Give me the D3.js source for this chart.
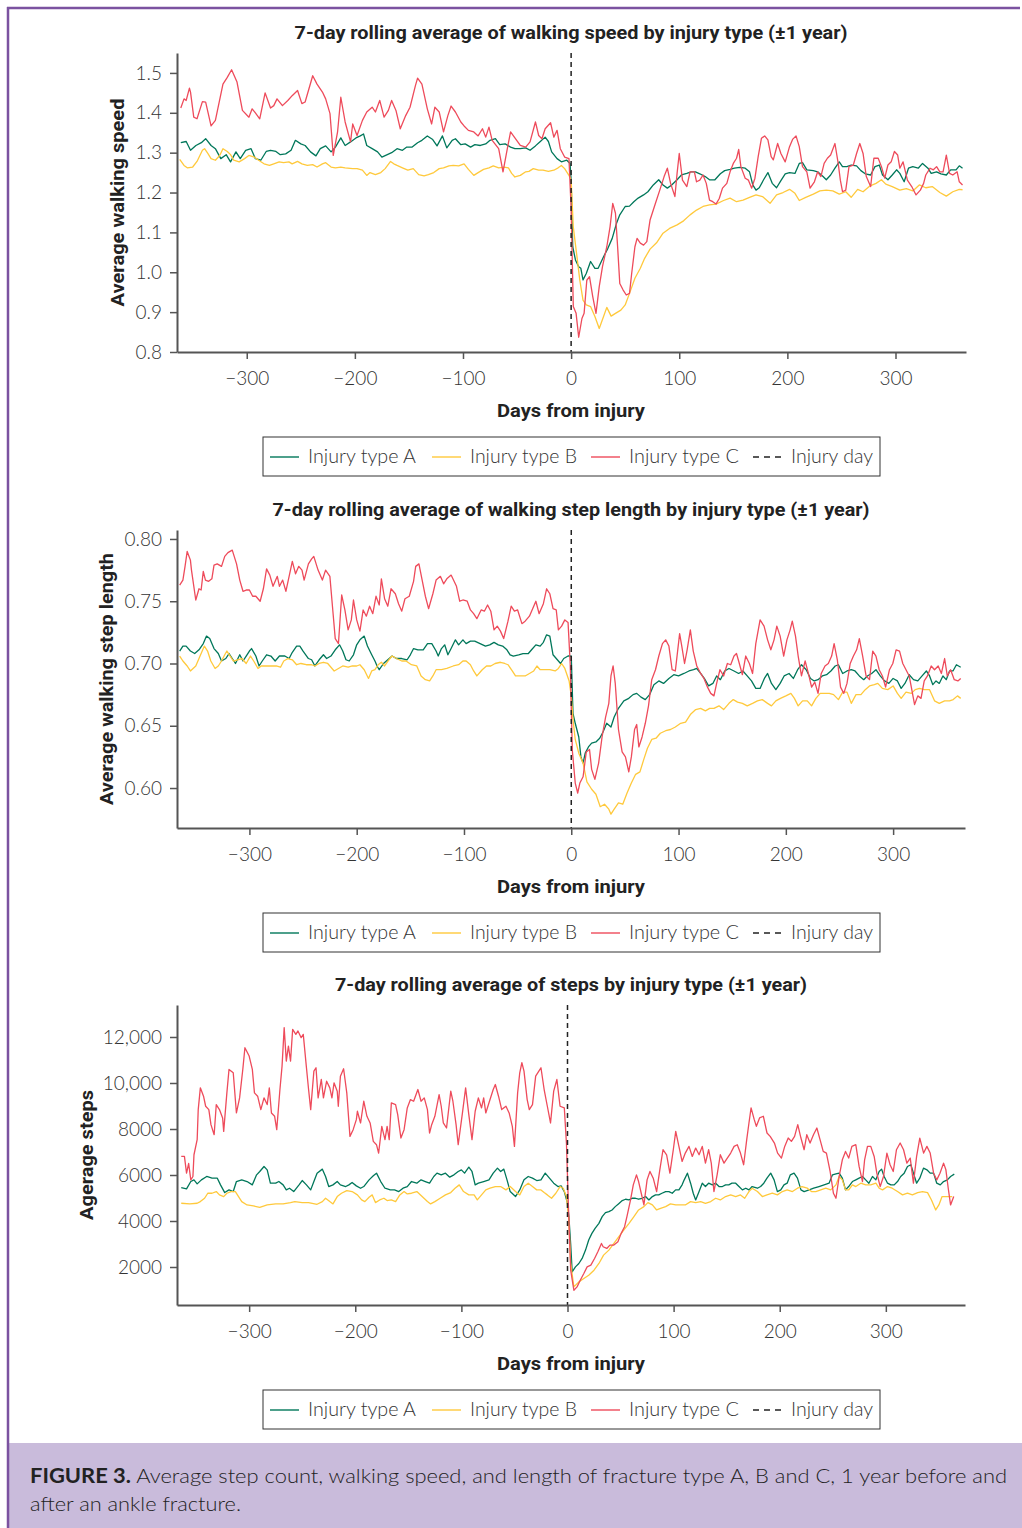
<!DOCTYPE html>
<html>
<head>
<meta charset="utf-8">
<script src="https://cdnjs.cloudflare.com/ajax/libs/d3/7.8.5/d3.min.js"></script>
<style>
  body { margin: 0; background: #fff; }
  svg { display: block; }
  .tick text { font-family: Lato, "Open Sans", sans-serif; font-weight: 300; font-size: 19px; fill: #333; }
  .title, .axis-label { font-family: Roboto, "DejaVu Sans Condensed", sans-serif; font-weight: 700; fill: #222; }
  .legend text { font-family: Lato, "Open Sans", sans-serif; font-weight: 300; font-size: 19px; fill: #333; }
  .caption { font-family: Lato, "Open Sans", sans-serif; font-weight: 300; font-size: 20px; fill: #222; }
</style>
</head>
<body>
<svg id="chart" width="1022" height="1528"></svg>
<script>
// --- data: [day from injury, value] ---
const seriesNames = ['Injury type A', 'Injury type B', 'Injury type C'];
const xTicks = [-300, -200, -100, 0, 100, 200, 300];
const speedTicks = [0.8, 0.9, 1.0, 1.1, 1.2, 1.3, 1.4, 1.5];
const stepLenTicks = [0.60, 0.65, 0.70, 0.75, 0.80];
const stepTicks = [2000, 4000, 6000, 8000, 10000, 12000];

// walking speed
const speedA = [[-361,1.325],[-356,1.328],[-352,1.306],[-347,1.318],[-342,1.325],[-338,1.335],[-333,1.318],[-329,1.31],[-324,1.285],[-319,1.295],[-315,1.277],[-310,1.302],[-306,1.285],[-301,1.306],[-296,1.31],[-292,1.285],[-287,1.281],[-282,1.303],[-278,1.306],[-273,1.303],[-269,1.295],[-264,1.297],[-259,1.306],[-255,1.331],[-250,1.322],[-246,1.318],[-241,1.302],[-236,1.292],[-232,1.31],[-227,1.317],[-222,1.302],[-218,1.314],[-213,1.337],[-209,1.318],[-204,1.327],[-199,1.337],[-195,1.342],[-192,1.347],[-189,1.318],[-184,1.31],[-179,1.302],[-175,1.289],[-170,1.295],[-166,1.3],[-161,1.31],[-156,1.306],[-152,1.314],[-147,1.314],[-142,1.325],[-138,1.331],[-133,1.342],[-128,1.333],[-124,1.317],[-119,1.342],[-115,1.312],[-110,1.331],[-107,1.335],[-102,1.32],[-98,1.322],[-93,1.314],[-89,1.32],[-84,1.318],[-79,1.322],[-75,1.331],[-70,1.335],[-66,1.32],[-61,1.322],[-56,1.314],[-52,1.31],[-47,1.31],[-42,1.312],[-38,1.306],[-33,1.317],[-29,1.327],[-24,1.339],[-21,1.328],[-18,1.302],[-13,1.285],[-9,1.277],[-4,1.281],[-1,1.273],[0,1.232],[1.5,1.064],[4,1.031],[7,1.014],[9,1.01],[11,0.981],[14,0.997],[18,1.027],[22,1.01],[25,1.01],[30,1.039],[34,1.06],[38,1.085],[42,1.123],[45,1.144],[50,1.165],[54,1.166],[58,1.177],[62,1.186],[67,1.194],[71,1.202],[76,1.219],[81,1.232],[85,1.219],[89,1.211],[93,1.219],[98,1.232],[102,1.244],[107,1.248],[111,1.252],[115,1.252],[119,1.247],[124,1.24],[128,1.232],[133,1.232],[138,1.247],[142,1.255],[147,1.258],[151,1.261],[156,1.263],[161,1.261],[165,1.252],[168,1.219],[171,1.206],[174,1.212],[178,1.232],[182,1.25],[186,1.223],[190,1.212],[194,1.23],[198,1.247],[202,1.25],[207,1.248],[211,1.273],[214,1.275],[218,1.257],[224,1.255],[228,1.252],[233,1.24],[236,1.232],[240,1.244],[244,1.261],[248,1.277],[251,1.265],[255,1.265],[259,1.269],[264,1.267],[268,1.255],[272,1.247],[277,1.244],[281,1.265],[285,1.269],[288,1.244],[293,1.232],[297,1.244],[301,1.257],[304,1.248],[308,1.227],[312,1.261],[316,1.265],[321,1.261],[325,1.273],[330,1.261],[333,1.248],[338,1.252],[342,1.247],[347,1.244],[351,1.257],[356,1.257],[359,1.267],[362,1.261]];
const speedB = [[-362,1.283],[-358,1.268],[-355,1.262],[-350,1.264],[-346,1.278],[-341,1.306],[-339,1.31],[-336,1.298],[-333,1.285],[-329,1.281],[-325,1.293],[-322,1.31],[-318,1.303],[-315,1.295],[-312,1.281],[-307,1.277],[-302,1.285],[-298,1.293],[-293,1.289],[-289,1.281],[-284,1.272],[-279,1.268],[-275,1.272],[-270,1.277],[-266,1.275],[-261,1.277],[-258,1.272],[-253,1.278],[-249,1.272],[-244,1.268],[-239,1.27],[-235,1.264],[-230,1.272],[-227,1.275],[-222,1.264],[-218,1.262],[-213,1.264],[-209,1.262],[-202,1.26],[-198,1.26],[-193,1.256],[-189,1.243],[-186,1.25],[-181,1.245],[-176,1.25],[-172,1.26],[-167,1.278],[-164,1.272],[-161,1.268],[-156,1.262],[-151,1.256],[-146,1.26],[-141,1.245],[-136,1.242],[-132,1.245],[-127,1.25],[-122,1.26],[-118,1.262],[-113,1.267],[-109,1.268],[-104,1.267],[-99,1.272],[-95,1.258],[-90,1.243],[-86,1.25],[-81,1.258],[-76,1.262],[-72,1.267],[-67,1.262],[-62,1.264],[-58,1.262],[-55,1.248],[-52,1.239],[-47,1.243],[-42,1.252],[-39,1.253],[-35,1.26],[-30,1.256],[-26,1.256],[-21,1.253],[-16,1.256],[-12,1.262],[-9,1.268],[-6,1.26],[-2,1.243],[0,1.232],[2,1.114],[5,1.048],[8,0.981],[11,0.93],[14,0.918],[18,0.914],[22,0.889],[26,0.859],[30,0.889],[33,0.912],[37,0.89],[41,0.897],[46,0.905],[50,0.918],[54,0.947],[59,0.985],[64,1.01],[68,1.035],[73,1.058],[79,1.074],[85,1.098],[91,1.11],[98,1.119],[104,1.129],[110,1.144],[116,1.156],[122,1.165],[128,1.169],[134,1.171],[141,1.18],[147,1.186],[153,1.177],[159,1.181],[165,1.188],[171,1.194],[177,1.19],[184,1.173],[190,1.194],[196,1.2],[202,1.208],[207,1.198],[211,1.18],[217,1.188],[224,1.196],[230,1.204],[236,1.206],[242,1.204],[248,1.196],[254,1.202],[259,1.188],[265,1.208],[270,1.202],[276,1.216],[282,1.223],[287,1.232],[291,1.221],[297,1.215],[304,1.206],[310,1.21],[316,1.204],[322,1.219],[328,1.212],[334,1.215],[341,1.2],[347,1.191],[353,1.202],[359,1.208],[362,1.207]];
const speedC = [[-361,1.412],[-358,1.435],[-356,1.431],[-353,1.462],[-352,1.452],[-349,1.389],[-346,1.385],[-341,1.428],[-338,1.427],[-333,1.367],[-329,1.381],[-322,1.472],[-318,1.489],[-314,1.508],[-309,1.477],[-304,1.406],[-298,1.389],[-295,1.41],[-292,1.40],[-288,1.385],[-283,1.45],[-278,1.412],[-275,1.418],[-272,1.435],[-267,1.418],[-262,1.431],[-258,1.443],[-253,1.456],[-249,1.423],[-246,1.427],[-239,1.493],[-235,1.472],[-230,1.452],[-227,1.435],[-223,1.398],[-220,1.293],[-216,1.352],[-213,1.439],[-209,1.377],[-204,1.327],[-202,1.372],[-198,1.343],[-193,1.381],[-189,1.402],[-184,1.414],[-181,1.402],[-177,1.431],[-173,1.389],[-169,1.406],[-166,1.431],[-162,1.406],[-158,1.36],[-153,1.393],[-149,1.414],[-144,1.468],[-142,1.487],[-138,1.472],[-133,1.41],[-129,1.372],[-126,1.414],[-122,1.402],[-118,1.352],[-114,1.393],[-111,1.417],[-107,1.402],[-102,1.377],[-99,1.367],[-95,1.356],[-90,1.352],[-86,1.342],[-82,1.36],[-79,1.339],[-76,1.364],[-73,1.331],[-67,1.31],[-63,1.252],[-59,1.31],[-56,1.352],[-52,1.337],[-47,1.318],[-42,1.314],[-38,1.327],[-33,1.377],[-30,1.343],[-27,1.335],[-24,1.36],[-19,1.375],[-16,1.339],[-13,1.356],[-10,1.31],[-6,1.289],[-2,1.285],[0,1.16],[2,0.914],[4.6,0.897],[7,0.837],[10,0.884],[12,0.897],[14.5,0.98],[17,0.989],[20,0.939],[23,0.897],[26,0.964],[29,1.014],[33,1.064],[36,1.114],[38.5,1.173],[41,1.148],[43,1.064],[45,0.972],[48,0.956],[51,0.943],[54,0.947],[56,0.997],[59,1.064],[61,1.085],[64,1.073],[67,1.068],[70,1.077],[73,1.131],[78,1.173],[82,1.206],[86,1.24],[89,1.261],[92,1.223],[96,1.19],[98,1.248],[100,1.298],[103,1.231],[107,1.215],[110,1.252],[114,1.252],[116,1.227],[119,1.231],[122,1.244],[125,1.223],[128,1.181],[131,1.177],[134,1.171],[137,1.185],[140,1.211],[144,1.223],[147,1.252],[150,1.273],[153,1.286],[155,1.308],[157,1.265],[161,1.236],[164,1.231],[167,1.211],[170,1.236],[173,1.29],[176,1.336],[179,1.342],[182,1.332],[185,1.29],[187,1.282],[191,1.323],[194,1.298],[198,1.277],[202,1.315],[205,1.334],[208,1.342],[211,1.315],[214,1.265],[218,1.252],[221,1.211],[225,1.227],[228,1.252],[231,1.24],[234,1.273],[237,1.286],[240,1.294],[244,1.323],[247,1.273],[249,1.231],[251,1.202],[254,1.206],[257,1.265],[261,1.269],[264,1.298],[267,1.323],[270,1.298],[273,1.24],[277,1.215],[280,1.286],[284,1.286],[287,1.265],[290,1.236],[293,1.269],[296,1.277],[299,1.303],[302,1.294],[304,1.261],[307,1.277],[311,1.231],[315,1.215],[319,1.194],[323,1.206],[326,1.223],[328,1.244],[332,1.261],[335,1.257],[338,1.265],[341,1.252],[344,1.252],[347,1.294],[350,1.248],[353,1.244],[357,1.252],[359,1.227],[362,1.219]];

// walking step length
const stepLenA = [[-365,0.71],[-362,0.714],[-359,0.714],[-355,0.71],[-351,0.708],[-347,0.711],[-343,0.716],[-340,0.722],[-337,0.72],[-333,0.712],[-329,0.708],[-326,0.702],[-322,0.704],[-319,0.708],[-316,0.704],[-313,0.70],[-309,0.707],[-306,0.702],[-303,0.706],[-300,0.71],[-298,0.712],[-294,0.706],[-291,0.698],[-288,0.702],[-284,0.707],[-280,0.706],[-276,0.702],[-272,0.706],[-267,0.706],[-263,0.704],[-260,0.709],[-256,0.714],[-253,0.714],[-250,0.71],[-245,0.704],[-242,0.703],[-239,0.698],[-235,0.703],[-231,0.707],[-228,0.704],[-224,0.706],[-220,0.711],[-216,0.715],[-213,0.71],[-210,0.703],[-207,0.702],[-203,0.707],[-200,0.715],[-197,0.719],[-193,0.722],[-190,0.714],[-186,0.707],[-183,0.702],[-181,0.698],[-179,0.695],[-175,0.70],[-171,0.703],[-167,0.706],[-163,0.704],[-158,0.704],[-153,0.703],[-150,0.707],[-147,0.712],[-143,0.711],[-138,0.711],[-134,0.716],[-130,0.716],[-126,0.71],[-124,0.706],[-121,0.712],[-118,0.715],[-115,0.707],[-112,0.712],[-108,0.719],[-105,0.715],[-101,0.719],[-98,0.716],[-94,0.718],[-90,0.718],[-85,0.716],[-80,0.714],[-76,0.715],[-72,0.717],[-68,0.715],[-64,0.714],[-60,0.711],[-57,0.707],[-54,0.706],[-49,0.707],[-45,0.708],[-40,0.708],[-37,0.711],[-33,0.715],[-29,0.714],[-26,0.717],[-23,0.723],[-20,0.722],[-17,0.707],[-13,0.703],[-10,0.70],[-7,0.704],[-3,0.706],[0,0.706],[1.6,0.66],[3.7,0.652],[7,0.641],[9,0.625],[11,0.62],[13,0.628],[16,0.633],[19,0.636],[23,0.637],[26.5,0.64],[29.6,0.645],[33,0.652],[37,0.649],[40,0.657],[44,0.664],[49,0.67],[53.6,0.672],[57.6,0.675],[61,0.676],[65,0.673],[69,0.671],[73,0.675],[77,0.683],[81.6,0.686],[86,0.684],[91,0.688],[95.6,0.691],[100,0.69],[105,0.692],[109.7,0.694],[114,0.695],[117,0.696],[120.6,0.692],[124,0.688],[128,0.682],[132,0.684],[135.5,0.69],[139,0.687],[143,0.694],[147,0.696],[151.7,0.694],[156,0.692],[160,0.694],[164,0.69],[168,0.686],[172,0.68],[176,0.68],[180,0.688],[183,0.692],[186.6,0.684],[190.7,0.679],[194.7,0.684],[198.4,0.69],[203,0.692],[207,0.688],[211,0.695],[214.6,0.699],[219,0.695],[223,0.688],[226.5,0.686],[230,0.687],[234,0.69],[238,0.691],[242,0.694],[246,0.698],[249,0.699],[253,0.692],[257,0.694],[261,0.695],[264.5,0.694],[268.5,0.69],[272.6,0.687],[276,0.69],[280,0.692],[284,0.695],[288,0.69],[292,0.686],[296,0.684],[300,0.688],[304,0.686],[307.5,0.68],[311,0.684],[315,0.691],[319,0.687],[323,0.686],[327,0.69],[331,0.694],[334,0.69],[337,0.683],[340,0.686],[343,0.684],[346.4,0.69],[349.5,0.687],[352.6,0.694],[355.8,0.694],[359,0.699],[363,0.697]];
const stepLenB = [[-365,0.706],[-362,0.702],[-358,0.698],[-355,0.694],[-350,0.698],[-347,0.704],[-342,0.714],[-339,0.71],[-336,0.702],[-332,0.696],[-329,0.698],[-326,0.702],[-323,0.707],[-321,0.71],[-318,0.706],[-315,0.702],[-311,0.703],[-307,0.704],[-303,0.70],[-299,0.706],[-296,0.702],[-292,0.696],[-289,0.698],[-284,0.698],[-280,0.698],[-275,0.698],[-271,0.697],[-268,0.702],[-264,0.704],[-260,0.703],[-256,0.699],[-252,0.70],[-247,0.699],[-242,0.699],[-239,0.698],[-235,0.70],[-231,0.701],[-227,0.70],[-223,0.696],[-221,0.694],[-217,0.696],[-213,0.698],[-208,0.697],[-204,0.698],[-200,0.698],[-197,0.699],[-193,0.695],[-189,0.688],[-186,0.694],[-183,0.695],[-180,0.699],[-177,0.701],[-174,0.698],[-170,0.703],[-167,0.706],[-163,0.704],[-158,0.702],[-154,0.702],[-149,0.699],[-144,0.698],[-140,0.69],[-136,0.687],[-132,0.686],[-129,0.69],[-126,0.695],[-121,0.695],[-116,0.696],[-110,0.698],[-105,0.699],[-101,0.702],[-98,0.702],[-94,0.699],[-91,0.694],[-88,0.69],[-83,0.695],[-79,0.698],[-75,0.698],[-71,0.70],[-66,0.701],[-62,0.70],[-59,0.699],[-55,0.694],[-52,0.69],[-48,0.69],[-43,0.69],[-39,0.692],[-35,0.694],[-32,0.698],[-29,0.695],[-24,0.695],[-20,0.695],[-15,0.694],[-12,0.696],[-9,0.70],[-6,0.696],[-2,0.686],[0,0.674],[1.6,0.655],[3.7,0.639],[7,0.628],[11,0.62],[14.6,0.605],[19,0.599],[23,0.595],[27,0.585],[31,0.587],[35,0.583],[37,0.579],[40,0.583],[44,0.588],[48,0.587],[52,0.596],[56,0.604],[60,0.611],[64,0.613],[67.6,0.623],[71,0.632],[75,0.639],[79,0.64],[83,0.644],[88,0.646],[92.5,0.647],[97,0.649],[102,0.652],[106.5,0.653],[111,0.659],[116,0.663],[120.6,0.664],[125,0.662],[129,0.664],[133,0.664],[137.7,0.666],[142,0.663],[147,0.668],[151,0.671],[155,0.669],[159.5,0.668],[164,0.666],[169,0.668],[173.5,0.67],[178,0.671],[183,0.668],[186.6,0.666],[190.7,0.67],[195,0.672],[200,0.674],[204.7,0.676],[208,0.672],[211.5,0.666],[215.6,0.67],[220,0.67],[224,0.666],[228,0.672],[232,0.676],[236.5,0.676],[240.5,0.676],[244.5,0.675],[249,0.671],[253,0.677],[257,0.677],[261,0.668],[265.4,0.675],[270,0.675],[274,0.679],[278,0.682],[282.5,0.683],[285.7,0.684],[290,0.68],[295,0.679],[300,0.682],[304,0.676],[307.5,0.672],[312,0.677],[317,0.676],[320.6,0.679],[324.6,0.68],[329,0.679],[334,0.679],[338.6,0.67],[343,0.668],[348,0.67],[352.6,0.67],[356,0.671],[360,0.674],[363,0.672]];
const stepLenC = [[-365,0.763],[-362,0.767],[-360,0.778],[-358,0.79],[-355,0.783],[-354,0.775],[-350,0.751],[-347,0.76],[-345,0.759],[-343,0.774],[-341,0.767],[-338,0.766],[-335,0.768],[-333,0.779],[-330,0.78],[-326,0.778],[-323,0.786],[-320,0.789],[-316,0.791],[-312,0.78],[-309,0.767],[-306,0.758],[-303,0.759],[-300,0.759],[-297,0.754],[-294,0.754],[-290,0.75],[-287,0.76],[-284,0.776],[-281,0.771],[-278,0.762],[-274,0.77],[-272,0.762],[-269,0.767],[-266,0.758],[-263,0.77],[-260,0.782],[-257,0.772],[-254,0.778],[-251,0.775],[-249,0.767],[-245,0.78],[-242,0.784],[-240,0.786],[-236,0.775],[-232,0.767],[-229,0.775],[-225,0.77],[-222,0.74],[-220,0.72],[-217,0.716],[-214,0.755],[-211,0.743],[-208,0.727],[-205,0.735],[-203,0.751],[-200,0.735],[-197,0.726],[-194,0.743],[-191,0.738],[-188,0.746],[-185,0.74],[-182,0.754],[-179,0.747],[-177,0.768],[-174,0.752],[-171,0.746],[-168,0.76],[-164,0.756],[-161,0.748],[-158,0.742],[-155,0.752],[-151,0.754],[-147,0.766],[-145,0.778],[-142,0.78],[-139,0.767],[-136,0.754],[-133,0.744],[-129,0.756],[-126,0.767],[-122,0.77],[-119,0.764],[-116,0.768],[-112,0.771],[-107,0.762],[-104,0.75],[-101,0.751],[-97,0.75],[-94,0.743],[-91,0.74],[-88,0.736],[-84,0.743],[-81,0.742],[-78,0.747],[-75,0.742],[-72,0.727],[-69,0.73],[-66,0.726],[-63,0.72],[-59,0.734],[-56,0.746],[-53,0.742],[-50,0.743],[-46,0.732],[-43,0.734],[-39,0.738],[-36,0.744],[-33,0.75],[-30,0.74],[-26,0.748],[-23,0.76],[-20,0.756],[-17,0.744],[-14,0.743],[-12,0.727],[-9,0.73],[-6,0.735],[-3,0.733],[-1,0.70],[1,0.63],[3.7,0.604],[6,0.596],[8,0.604],[11,0.609],[14,0.629],[17,0.631],[19,0.615],[22,0.607],[25.5,0.62],[28.7,0.641],[32,0.657],[35,0.668],[37,0.69],[39,0.698],[41,0.684],[44,0.647],[47.4,0.629],[50.5,0.625],[53.6,0.613],[56,0.625],[59,0.647],[61,0.651],[63,0.633],[66,0.641],[69,0.652],[72,0.666],[75,0.687],[78.5,0.695],[81.6,0.706],[85,0.716],[88,0.719],[91,0.714],[94,0.695],[97,0.694],[101,0.724],[103,0.714],[105.6,0.70],[108,0.711],[111,0.727],[113.7,0.71],[117,0.698],[120.6,0.692],[123.7,0.688],[127,0.681],[130,0.676],[133,0.674],[135.5,0.684],[138.6,0.695],[142,0.69],[145.5,0.70],[148.6,0.699],[151.7,0.706],[154,0.708],[156,0.702],[159.5,0.691],[162.6,0.706],[166,0.70],[169,0.692],[172,0.716],[176,0.735],[179.7,0.73],[183,0.719],[186,0.711],[189,0.719],[191.6,0.73],[194.7,0.722],[198,0.706],[201,0.719],[204,0.727],[206,0.734],[209,0.722],[211.5,0.706],[214.6,0.69],[218,0.702],[221,0.692],[224,0.681],[227,0.685],[230,0.676],[233,0.692],[236.5,0.698],[239.6,0.70],[242.7,0.706],[245,0.716],[248,0.703],[251,0.681],[254,0.676],[257,0.684],[260,0.70],[263,0.706],[266,0.711],[268.5,0.72],[271.6,0.706],[274.8,0.69],[278,0.687],[281,0.71],[284,0.706],[287,0.695],[290,0.69],[293,0.681],[296.6,0.695],[299.7,0.70],[302.8,0.711],[306,0.71],[309,0.70],[312,0.695],[315,0.69],[317.4,0.679],[320,0.667],[323,0.674],[326,0.672],[329,0.686],[332,0.69],[335.5,0.698],[338.6,0.695],[342,0.698],[345,0.692],[348,0.704],[350.5,0.69],[353.6,0.695],[357,0.687],[360.4,0.686],[363,0.688]];

// step count
const stepsA = [[-364,5455],[-359,5396],[-355,5716],[-352,5789],[-349,5615],[-345,5789],[-340,5935],[-335,5862],[-330,5862],[-327,5571],[-323,5236],[-319,5353],[-315,5280],[-312,5716],[-307,5789],[-302,5716],[-297,5571],[-293,6007],[-290,6153],[-286,6371],[-283,6225],[-280,5644],[-275,5644],[-272,5716],[-268,5571],[-265,5353],[-262,5425],[-258,5280],[-253,5571],[-250,5760],[-246,5571],[-242,5353],[-239,5716],[-236,6080],[-231,6255],[-228,5935],[-225,5498],[-221,5571],[-217,5716],[-214,5571],[-209,5498],[-206,5571],[-203,5673],[-199,5527],[-195,5425],[-192,5498],[-187,5789],[-183,5964],[-180,6080],[-176,5716],[-172,5425],[-167,5353],[-163,5353],[-159,5280],[-155,5425],[-151,5498],[-147,5716],[-142,5644],[-138,5789],[-134,5716],[-130,5644],[-126,5935],[-123,6080],[-119,6007],[-115,6080],[-111,5905],[-107,6007],[-103,6153],[-100,6225],[-97,6080],[-93,6342],[-90,6153],[-87,5571],[-84,5644],[-79,5716],[-74,5789],[-70,6080],[-66,6298],[-63,6153],[-60,6255],[-57,5789],[-54,5280],[-49,5062],[-45,5353],[-41,5789],[-37,5935],[-33,5862],[-29,5760],[-25,5789],[-21,6080],[-17,5862],[-13,5644],[-9,5498],[-6,5527],[-3,5280],[0,4771],[1.3,4189],[3,3000],[4.4,1789],[7.5,2007],[10.7,2153],[13.8,2371],[17,2735],[20,3171],[23,3462],[26,3680],[29.6,3898],[32.7,4189],[35.8,4364],[39,4407],[42,4480],[45,4625],[48,4742],[51.6,4887],[54.7,4946],[57.9,4916],[61,4989],[64,4989],[67,4946],[70.4,4989],[73.6,5062],[76.7,4916],[80,5062],[83,5135],[86,5135],[89,5207],[92.5,5280],[95.6,5280],[98.7,5207],[101.9,5353],[105,5353],[108,5571],[110,5789],[113,6080],[116,5644],[118.5,5207],[120.8,4916],[124,5280],[127,5644],[130,5498],[133,5644],[136.5,5571],[139.6,5644],[142.8,5498],[146,5498],[149,5571],[152,5571],[155,5644],[158.5,5644],[161.6,5498],[164.8,5353],[168,5425],[171,5353],[174,5498],[179,5425],[182,5498],[185,5644],[188,5862],[191.5,6080],[194.7,5789],[197.8,5280],[201,5353],[204,5571],[207,5644],[210,6007],[213.5,6080],[216.7,5862],[220,5353],[223,5280],[227.7,5353],[232,5425],[237,5498],[241.8,5571],[246.5,5644],[249.7,6007],[253,6050],[256,6080],[259,5862],[262,5353],[265,5498],[268.5,5716],[271.7,5789],[274.8,5862],[278,5935],[281,5789],[284,5644],[287.4,5935],[290.6,5789],[293.7,6153],[296,6255],[298.4,5935],[301.6,5644],[304.7,5571],[307.9,5571],[311,5716],[314,5935],[317.3,6080],[320.4,6371],[323.6,6444],[326,6080],[329,5644],[332,5862],[335.5,6298],[338.7,6225],[341.8,6080],[345,6080],[348,5644],[351.3,5571],[354.4,5716],[358,5789],[361,5935],[364.5,6036]];
const stepsB = [[-364,4771],[-356,4742],[-349,4771],[-346,4844],[-342,4989],[-339,5207],[-335,5207],[-331,5280],[-328,5135],[-324,5062],[-321,5207],[-317,5280],[-313,5280],[-310,5062],[-307,4844],[-302,4698],[-296,4655],[-290,4596],[-283,4698],[-275,4742],[-268,4742],[-261,4800],[-257,4844],[-250,4800],[-244,4800],[-236,4727],[-231,4844],[-228,4989],[-224,4844],[-221,4742],[-217,5062],[-213,5207],[-208,5324],[-203,5280],[-198,5135],[-194,4916],[-191,4844],[-187,5033],[-184,5135],[-181,4800],[-177,4916],[-173,4989],[-170,4887],[-166,4916],[-162,4844],[-158,5135],[-154,5280],[-151,5178],[-147,5207],[-142,5280],[-137,5062],[-132,4844],[-129,4742],[-125,4844],[-120,4989],[-115,5135],[-110,5236],[-106,5425],[-102,5571],[-98,5280],[-93,5135],[-88,5135],[-85,4916],[-81,5135],[-77,5353],[-73,5425],[-68,5498],[-63,5498],[-58,5353],[-54,5498],[-49,5280],[-45,5135],[-41,5498],[-37,5644],[-33,5498],[-29,5353],[-25,5353],[-22,5236],[-19,5135],[-15,4989],[-11,5207],[-7,5498],[-4,5425],[-1,5062],[1,4189],[3,2153],[6,1135],[10.7,1353],[15.4,1498],[20,1644],[25,1862],[29.6,2153],[34,2516],[39,2735],[43.7,3025],[48.4,3316],[53,3607],[58,3898],[62.6,4189],[67,4480],[72,4625],[75.8,4800],[80,4698],[84,4480],[87.7,4553],[92.5,4625],[97,4742],[102,4698],[106.6,4698],[111,4698],[116,4844],[120.8,4800],[125.5,4844],[130,4771],[135,4844],[139.6,4989],[144,4916],[149,5062],[153.8,5135],[158.5,5062],[163,5135],[167,4989],[171,5280],[174,5425],[179,5280],[183.6,5062],[188,5135],[193,5207],[197.8,5135],[202.5,5280],[207,5353],[212,5280],[216.7,5425],[221,5498],[226,5425],[229.9,5280],[234,5280],[238.7,5353],[243.4,5425],[248,5353],[253,5571],[256,5935],[259,5789],[262,5353],[265,5353],[268.5,5571],[271.7,5498],[276.4,5644],[281,5571],[285.8,5571],[290.6,5644],[293.7,5425],[296.9,5353],[301.6,5498],[306,5425],[311,5280],[315.7,5135],[320.4,5207],[325,5135],[330,5236],[334.6,5280],[339.3,5236],[343,4916],[347,4480],[350,4698],[353,5062],[358,5062],[362.6,5062]];
const stepsC = [[-364,6807],[-361,6807],[-359,6080],[-357,6500],[-355,5789],[-353,5935],[-352,6880],[-349,7535],[-348,8844],[-346,9789],[-343,9425],[-341,8989],[-338,8844],[-336,8189],[-333,7753],[-331,9062],[-328,8844],[-325,8480],[-324,7898],[-321,9571],[-319,10589],[-315,10444],[-312,8698],[-309,9353],[-306,10589],[-304,11535],[-300,11171],[-297,10589],[-295,9571],[-292,9425],[-289,8844],[-286,9353],[-283,9062],[-281,9789],[-279,8698],[-276,8553],[-274,7971],[-271,9717],[-269,10735],[-267,12407],[-265,10953],[-263,11607],[-261,10953],[-259,12335],[-256,12116],[-254,12262],[-251,11971],[-249,12116],[-246,10662],[-244,9717],[-242,8844],[-239,10516],[-237,10662],[-235,9353],[-232,10153],[-230,9353],[-227,10080],[-224,9789],[-222,9353],[-220,10007],[-217,9644],[-216,8989],[-214,10298],[-211,10618],[-208,9571],[-205,7680],[-202,7971],[-199,8407],[-198,8771],[-195,8262],[-192,9207],[-189,8553],[-186,8262],[-183,7462],[-180,7317],[-178,6953],[-175,8116],[-172,7535],[-170,8116],[-168,7535],[-166,9135],[-162,9062],[-160,8625],[-157,7607],[-154,7971],[-151,8916],[-148,9280],[-145,9207],[-141,9717],[-138,9207],[-135,9353],[-132,8844],[-130,7826],[-128,8189],[-125,8553],[-121,9498],[-119,8989],[-117,8262],[-114,8044],[-110,9644],[-108,9207],[-105,8189],[-103,7317],[-99,8698],[-96,9789],[-93,8625],[-90,7535],[-87,8771],[-84,9353],[-81,8916],[-79,9353],[-77,8698],[-73,9280],[-70,9717],[-68,9935],[-65,9425],[-62,8844],[-58,8989],[-55,8698],[-52,8116],[-50,7244],[-47,9571],[-45,10444],[-43,10880],[-41,10516],[-38,9280],[-36,8844],[-33,9062],[-30,10298],[-27,10516],[-25,10662],[-22,9717],[-19,8989],[-16,8262],[-13,9644],[-10,10153],[-7,8989],[-3,8916],[-1,7389],[1,4480],[3,1862],[6,989],[9,1135],[12,1425],[15.4,1716],[18.5,2007],[22,2080],[25.5,2371],[28.6,2662],[32,3025],[33.6,2880],[37,2807],[40,2953],[43.7,2953],[47.5,3098],[50.6,3462],[53.8,3753],[56,4189],[59.4,4916],[62,5571],[65,6007],[67,5716],[69.5,5207],[72,4698],[75,5789],[77.7,6153],[80.8,5862],[84,5280],[87,6225],[90,7098],[93.4,6880],[96.5,6080],[99.7,7098],[102,7898],[105,7244],[108,6589],[111,6953],[114.5,7244],[117.6,6807],[120.8,7171],[124,6880],[127,7244],[130,6516],[133,7098],[135.5,6516],[138,5280],[141,6007],[144,6880],[147.5,6516],[150.6,6735],[153.8,6953],[157,7244],[160,7317],[163,6953],[166,6444],[168.9,7535],[171,8262],[173,8916],[176,8407],[178,8116],[181,8480],[184.6,8553],[188,7826],[191,7680],[195,7389],[198,6953],[201.6,6735],[204.7,7244],[208,7607],[211,7462],[214,7680],[217,8189],[220,7607],[223,7098],[225.5,7753],[228.6,7389],[231.8,7753],[235,8044],[238,7535],[241,7025],[244,6953],[247.5,6153],[250.6,5207],[253,4989],[256,5935],[259,6662],[262,7025],[265,6735],[268,7244],[271.7,7317],[274.8,6371],[278,5716],[280,6662],[282.7,7244],[285.8,7244],[289,6807],[291.5,6080],[294.7,5498],[297.8,5935],[301,6953],[304,6444],[307,6153],[310,7098],[313.5,7389],[316.7,7098],[319.8,6516],[323,6735],[326,5644],[329,6807],[332,7607],[335.6,6953],[338.7,7244],[341.8,6953],[345,6080],[348,5789],[351,6080],[354.4,6516],[356.6,6225],[358.8,5425],[361,4698],[364,5062]];

const colors = ['#00775a', '#ffc93c', '#ee4b5b'];

const panels = [
  { title: '7-day rolling average of walking speed by injury type (\u00b11 year)', titleW: 553,
    ylabel: 'Average walking speed', ylabelX: 117, ylabelW: 208,
    top: 53, bottom: 352, xDomain: [-364.5, 365.2], xRange: [177, 966],
    yDomain: [0.8, 1.55], yTicks: speedTicks, yFmt: d3.format('.1f'),
    series: [speedA, speedB, speedC] },
  { title: '7-day rolling average of walking step length by injury type (\u00b11 year)', titleW: 597,
    ylabel: 'Average walking step length', ylabelX: 106, ylabelW: 252,
    top: 530, bottom: 828, xDomain: [-367.5, 367], xRange: [177, 965],
    yDomain: [0.5679, 0.8072], yTicks: stepLenTicks, yFmt: d3.format('.2f'),
    series: [stepLenA, stepLenB, stepLenC] },
  { title: '7-day rolling average of steps by injury type (\u00b11 year)', titleW: 472,
    ylabel: 'Agerage steps', ylabelX: 86, ylabelW: 130,
    top: 1005, bottom: 1305, xDomain: [-368, 374.6], xRange: [177, 965],
    yDomain: [348, 13391], yTicks: stepTicks, yFmt: d => d >= 10000 ? d3.format(',')(d) : String(d),
    series: [stepsA, stepsB, stepsC] }
];

const svg = d3.select('#chart');

// frame and caption band
svg.append('rect').attr('x', 8).attr('y', 1443).attr('width', 1014).attr('height', 85).attr('fill', '#c9bbdb');
svg.append('line').attr('x1', 8).attr('x2', 8).attr('y1', 7).attr('y2', 1528).attr('stroke', '#7b52a0').attr('stroke-width', 2.5);
svg.append('line').attr('x1', 7).attr('x2', 1020).attr('y1', 8).attr('y2', 8).attr('stroke', '#7b52a0').attr('stroke-width', 2.5);

const minus = s => s.replace('-', '\u2212');

panels.forEach(p => {
  const x = d3.scaleLinear().domain(p.xDomain).range(p.xRange);
  const y = d3.scaleLinear().domain(p.yDomain).range([p.bottom, p.top]);
  const cx = x(0);

  svg.append('text').attr('class', 'title')
    .attr('x', 571).attr('y', p.top - 14).attr('text-anchor', 'middle')
    .attr('font-size', 19).attr('textLength', p.titleW).attr('lengthAdjust', 'spacingAndGlyphs')
    .text(p.title);

  const g = svg.append('g');

  // series lines
  const line = d3.line().x(d => x(d[0])).y(d => y(d[1]));
  p.series.forEach((s, i) => {
    g.append('path').datum(s)
      .attr('fill', 'none').attr('stroke', colors[i]).attr('stroke-width', 1.3)
      .attr('stroke-linejoin', 'round').attr('d', line);
  });

  // injury day
  g.append('line').attr('x1', cx).attr('x2', cx).attr('y1', p.top).attr('y2', p.bottom)
    .attr('stroke', '#222').attr('stroke-width', 1.5).attr('stroke-dasharray', '5,4');

  // axes
  const xAxis = svg.append('g').attr('transform', `translate(0,${p.bottom})`)
    .call(d3.axisBottom(x).tickValues(xTicks).tickSize(7).tickSizeOuter(0).tickPadding(13)
      .tickFormat(d => minus(String(d))));
  const yAxis = svg.append('g').attr('transform', `translate(${p.xRange[0]},0)`)
    .call(d3.axisLeft(y).tickValues(p.yTicks).tickSize(7).tickSizeOuter(0).tickPadding(8)
      .tickFormat(p.yFmt));
  [xAxis, yAxis].forEach(a => {
    a.select('.domain').attr('stroke', '#555').attr('stroke-width', 2);
    a.selectAll('.tick line').attr('stroke', '#555').attr('stroke-width', 1.5);
  });

  svg.append('text').attr('class', 'axis-label')
    .attr('x', 571).attr('y', p.bottom + 65).attr('text-anchor', 'middle')
    .attr('font-size', 19).attr('textLength', 148).attr('lengthAdjust', 'spacingAndGlyphs')
    .text('Days from injury');

  const my = (p.top + p.bottom) / 2;
  svg.append('text').attr('class', 'axis-label')
    .attr('transform', `translate(${p.ylabelX + 7},${my}) rotate(-90)`)
    .attr('text-anchor', 'middle').attr('font-size', 19)
    .attr('textLength', p.ylabelW).attr('lengthAdjust', 'spacingAndGlyphs')
    .text(p.ylabel);

  // legend
  const ly = p.bottom + 85;
  const lg = svg.append('g').attr('class', 'legend');
  lg.append('rect').attr('x', 263).attr('y', ly).attr('width', 617).attr('height', 39)
    .attr('fill', '#fff').attr('stroke', '#333').attr('stroke-width', 1);
  const items = [
    { label: seriesNames[0], color: colors[0], x: 270, w: 108 },
    { label: seriesNames[1], color: colors[1], x: 432, w: 107 },
    { label: seriesNames[2], color: colors[2], x: 591, w: 110 },
    { label: 'Injury day', color: '#222', x: 753, w: 82, dash: '6,5' }
  ];
  items.forEach(it => {
    lg.append('line').attr('x1', it.x).attr('x2', it.x + 29).attr('y1', ly + 20).attr('y2', ly + 20)
      .attr('stroke', it.color).attr('stroke-width', 1.4).attr('stroke-dasharray', it.dash || null);
    lg.append('text').attr('x', it.x + 38).attr('y', ly + 26)
      .attr('textLength', it.w).attr('lengthAdjust', 'spacingAndGlyphs').text(it.label);
  });
});

// caption
const cap = svg.append('text').attr('class', 'caption').attr('x', 30).attr('y', 1483)
  .attr('textLength', 977).attr('lengthAdjust', 'spacingAndGlyphs');
cap.append('tspan').attr('font-weight', 700).text('FIGURE 3.');
cap.append('tspan').text(' Average step count, walking speed, and length of fracture type A, B and C, 1 year before and');
svg.append('text').attr('class', 'caption').attr('x', 30).attr('y', 1511)
  .attr('textLength', 211).attr('lengthAdjust', 'spacingAndGlyphs')
  .text('after an ankle fracture.');
</script>
</body>
</html>
